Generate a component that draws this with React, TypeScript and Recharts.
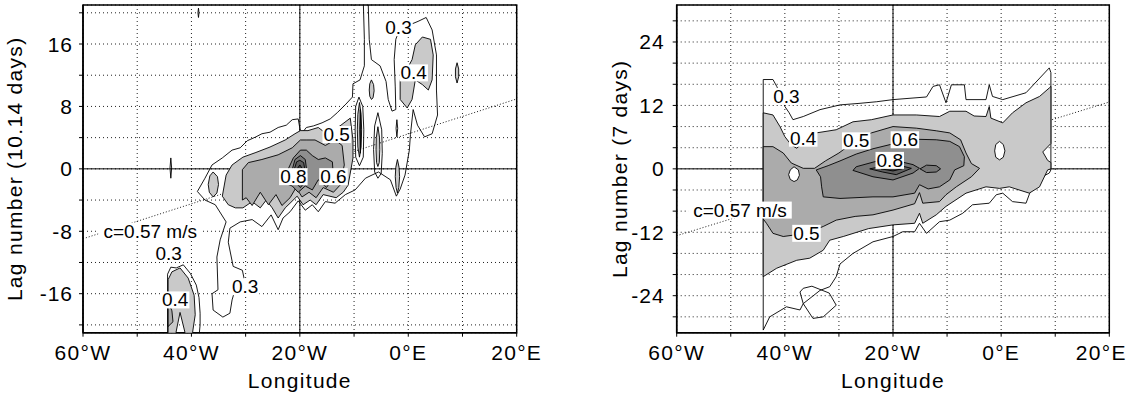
import React from 'react';
import {
  ComposedChart,
  XAxis,
  YAxis,
  CartesianGrid,
  Scatter,
  Line,
  ReferenceLine,
  ReferenceArea,
  Label,
} from 'recharts';

const FONT = '"Liberation Sans", Arial, Helvetica, sans-serif';

// ---------- axes ----------
const lonTicks = [-60, -50, -40, -30, -20, -10, 0, 10, 20];
const lonTickText = ['60°W', '', '40°W', '', '20°W', '', '0°E', '', '20°E'];
const leftLagTicks = [-20, -16, -12, -8, -4, 0, 4, 8, 12, 16, 20];
const leftLagText = ['', '-16', '', '-8', '', '0', '', '8', '', '16', ''];
const rightLagTicks = [-28, -24, -20, -16, -12, -8, -4, 0, 4, 8, 12, 16, 20, 24, 28];
const rightLagText = ['', '-24', '', '', '-12', '', '', '0', '', '', '12', '', '', '24', ''];

// phase-speed reference lines (c = 0.57 m/s)
const leftSpeedLine = [{ x: -60, y: -8.96 }, { x: 20, y: 8.96 }];
const rightSpeedLine = [{ x: -60, y: -12.65 }, { x: 20, y: 12.65 }];

// ---------- left panel contours (lon, lag) ----------
const L03main = [[-38.9,-2.9],[-37.5,-1.2],[-36.2,0.5],[-34.3,1.4],[-32.5,2.4],[-31.0,2.7],[-29.7,3.6],[-28.1,4.1],[-27.0,4.5],[-25.5,4.7],[-24.0,5.3],[-22.5,5.6],[-21.4,6.3],[-20.3,6.4],[-19.8,4.4],[-18.8,5.3],[-17.5,5.5],[-15.9,5.9],[-14.4,6.4],[-13.1,7.2],[-11.5,8.3],[-10.3,9.2],[-10.2,10.9],[-8.9,11.4],[-8.1,13.2],[-8.1,16.6],[-8.3,21.5],[-7.4,21.5],[-7.2,16.6],[-6.8,14.0],[-5.2,13.2],[-4.1,11.2],[-3.7,8.9],[-3.0,7.4],[-2.3,7.6],[-2.4,10.5],[-2.6,14.0],[-2.3,16.6],[-1.5,18.1],[0.4,18.5],[1.8,18.9],[3.3,19.4],[4.4,17.8],[5.2,14.6],[5.2,10.1],[5.4,6.9],[4.4,4.5],[3.0,4.1],[1.7,5.6],[0.9,7.6],[0.4,4.4],[0.2,2.4],[-0.6,-0.8],[-1.5,-2.6],[-2.2,-3.5],[-3.3,-1.4],[-5.5,-0.4],[-7.9,-1.2],[-9.8,-2.7],[-11.6,-3.3],[-13.5,-4.4],[-15.3,-4.2],[-16.6,-5.5],[-17.7,-4.6],[-19.0,-5.3],[-20.3,-4.1],[-21.8,-5.5],[-23.1,-6.3],[-24.0,-7.8],[-25.3,-5.9],[-27.0,-7.4],[-28.8,-6.5],[-31.0,-6.8],[-32.9,-7.6],[-33.2,-9.4],[-32.3,-12.5],[-30.6,-13.0],[-30.3,-14.0],[-31.8,-15.1],[-32.5,-16.8],[-32.9,-18.5],[-34.2,-19.0],[-36.0,-18.1],[-36.2,-16.0],[-35.1,-15.5],[-35.3,-11.3],[-34.7,-9.1],[-33.6,-6.8],[-35.6,-4.6],[-37.5,-4.0]];
const L03lowerLeft = [[-44.4,-21.5],[-44.4,-13.5],[-43.8,-12.6],[-42.8,-12.7],[-41.5,-12.3],[-40.2,-13.4],[-39.1,-14.9],[-38.6,-16.5],[-38.4,-18.5],[-38.4,-20.0],[-38.6,-21.5]];
const L04lowerLeft = [[-44.3,-21.5],[-44.3,-14.2],[-43.6,-13.2],[-42.1,-12.7],[-40.6,-14.0],[-39.5,-16.2],[-39.3,-18.7],[-39.9,-21.5],[-41.0,-21.5],[-42.1,-18.4],[-43.0,-21.5]];
const L05lowerLeft = [[-44.3,-17.0],[-43.6,-18.2],[-43.4,-19.6],[-44.3,-20.2]];
const L04topRight = [[-0.6,12.3],[0.7,14.0],[1.3,15.9],[2.6,16.9],[4.1,16.6],[4.6,14.6],[4.4,11.4],[3.7,10.1],[2.6,10.8],[1.3,11.4],[0.7,8.9],[-0.2,7.8],[-1.5,8.9],[-1.5,11.4]];
const L03stripA = [[-9.1,9.2],[-8.4,8.0],[-8.2,5.0],[-8.3,1.5],[-9.0,0.4],[-9.7,1.5],[-9.8,5.0],[-9.7,8.0]];
const L04stripA = [[-9.0,8.5],[-8.7,7.0],[-8.6,5.0],[-8.7,2.8],[-9.0,1.5],[-9.3,2.8],[-9.4,5.0],[-9.3,7.0]];
const L06stripA = [[-8.85,7.6],[-8.75,5.0],[-8.85,2.0],[-8.95,5.0]];
const L03stripB = [[-5.6,7.2],[-4.9,5.0],[-4.8,2.0],[-5.0,-0.6],[-5.6,-1.2],[-6.2,-0.4],[-6.4,2.5],[-6.2,5.5]];
const L04stripB = [[-5.6,5.4],[-5.3,4.0],[-5.25,2.5],[-5.35,0.8],[-5.6,0.3],[-5.85,0.8],[-5.95,2.5],[-5.9,4.0]];
const L04blobC = [[-6.8,11.4],[-6.4,10.8],[-6.3,10.0],[-6.5,9.1],[-6.8,8.9],[-7.1,9.3],[-7.2,10.1],[-7.1,10.9]];
const L04blobD = [[-2.0,1.2],[-1.7,0.2],[-1.6,-1.0],[-1.75,-2.4],[-2.0,-3.1],[-2.25,-2.4],[-2.4,-1.0],[-2.3,0.2]];
const L03tickE = [[-2.1,6.3],[-1.95,5.2],[-2.1,4.1],[-2.25,5.2]];
const L04eastF = [[9.0,13.6],[9.3,12.8],[9.3,11.8],[9.0,11.0],[8.7,11.8],[8.7,12.8]];
const L03markG = [[-43.8,1.4],[-43.65,0.1],[-43.8,-1.2],[-43.95,0.1]];
const L03markH = [[-38.7,20.6],[-38.6,20.0],[-38.7,19.4],[-38.8,20.0]];
const L04west = [[-36.0,-0.4],[-35.2,-1.0],[-35.0,-2.0],[-35.3,-3.1],[-36.0,-3.6],[-36.7,-3.0],[-36.9,-2.0],[-36.6,-0.9]];
const L04core = [[-34.3,-3.5],[-33.6,-0.8],[-32.5,0.5],[-30.5,1.5],[-28.1,2.1],[-25.5,2.8],[-22.7,3.7],[-20.9,4.5],[-19.9,4.9],[-18.5,4.9],[-16.6,5.3],[-15.1,4.5],[-12.6,5.5],[-10.7,6.5],[-10.2,3.7],[-10.2,1.4],[-11.1,-2.1],[-12.0,-3.0],[-13.3,-3.7],[-15.7,-3.3],[-17.0,-4.6],[-18.1,-4.0],[-19.4,-4.6],[-20.5,-3.5],[-21.8,-4.4],[-22.7,-5.0],[-24.0,-6.3],[-25.1,-5.0],[-26.2,-4.0],[-27.3,-5.0],[-28.8,-4.2],[-30.5,-5.0],[-31.9,-5.0],[-33.2,-4.6]];
const L05core = [[-30.6,-4.0],[-30.6,-0.1],[-29.5,0.8],[-27.0,1.2],[-24.0,1.8],[-21.4,2.7],[-19.9,3.7],[-18.7,3.7],[-17.2,3.7],[-15.3,3.0],[-13.5,3.7],[-12.2,3.0],[-11.8,0.5],[-12.6,-2.1],[-13.8,-3.0],[-15.7,-2.4],[-17.0,-3.7],[-18.3,-3.0],[-19.6,-3.6],[-20.7,-2.4],[-21.8,-3.7],[-23.3,-4.7],[-24.4,-3.3],[-25.8,-4.6],[-27.3,-3.0],[-28.8,-4.7],[-29.9,-3.7]];
const L06core = [[-23.3,-1.7],[-22.2,-0.1],[-21.2,1.4],[-19.9,2.4],[-18.8,2.4],[-17.7,1.7],[-16.6,1.2],[-15.3,1.4],[-14.0,0.9],[-13.8,-1.2],[-15.1,-2.4],[-16.6,-1.4],[-17.7,-2.7],[-19.0,-2.2],[-20.3,-3.0],[-21.4,-2.2]];
const L07core = [[-21.4,-0.1],[-20.9,1.2],[-19.9,1.7],[-19.0,1.2],[-18.7,-0.4],[-19.2,-1.8],[-19.9,-2.4],[-20.9,-1.7]];
const L08core = [[-21.0,0.0],[-20.6,0.9],[-20.0,1.1],[-19.3,0.8],[-19.1,0.0],[-19.4,-0.8],[-20.0,-1.1],[-20.7,-0.8]];
const L09core = [[-20.5,0.0],[-20.0,0.5],[-19.5,0.0],[-20.0,-0.5]];

// ---------- right panel contours (lon, lag) ----------
const R03main = [[-44.0,16.9],[-42.2,16.9],[-41.5,15.6],[-40.8,14.0],[-40.0,11.8],[-39.2,10.6],[-38.5,9.3],[-36.6,9.9],[-33.5,11.2],[-29.8,12.1],[-26.1,12.4],[-23.0,12.7],[-20.0,13.1],[-16.3,13.4],[-13.8,13.6],[-12.6,15.6],[-11.4,15.9],[-10.2,12.5],[-9.2,15.9],[-6.8,15.9],[-6.5,13.1],[-2.8,13.1],[-2.2,15.9],[-1.6,13.7],[0.3,13.1],[4.6,14.4],[8.9,19.1],[9.2,18.2],[9.2,-0.2],[8.9,-0.8],[7.0,-1.8],[5.5,-4.0],[4.6,-6.5],[2.1,-6.2],[0.3,-4.6],[-0.9,-4.9],[-2.2,-6.5],[-5.3,-6.8],[-7.1,-8.4],[-9.5,-9.7],[-11.4,-10.0],[-13.8,-12.2],[-15.1,-10.3],[-16.0,-11.9],[-18.2,-11.9],[-20.0,-12.8],[-23.7,-13.8],[-27.4,-16.0],[-29.8,-18.0],[-30.5,-20.4],[-31.7,-22.3],[-33.5,-23.0],[-36.6,-25.5],[-37.2,-26.7],[-39.7,-26.1],[-42.8,-28.0],[-44.0,-30.5]];
const R03loop = [[-36.6,-22.6],[-35.0,-22.2],[-31.8,-23.5],[-30.5,-25.8],[-32.9,-28.0],[-34.8,-28.3],[-36.6,-25.5],[-37.2,-23.3]];
const R04 = [[-44.0,10.6],[-42.2,10.2],[-40.9,8.0],[-40.0,6.1],[-38.8,4.5],[-37.8,3.9],[-36.0,5.5],[-34.2,6.8],[-30.5,7.4],[-27.4,8.9],[-24.0,9.3],[-20.0,10.2],[-15.7,10.2],[-11.4,9.9],[-9.5,10.9],[-6.5,10.9],[-5.0,10.0],[-2.8,9.9],[-2.2,11.8],[-1.9,9.6],[0.3,8.7],[2.1,10.6],[4.6,12.5],[7.1,13.7],[8.9,15.3],[9.2,15.6],[9.2,4.8],[7.7,3.2],[8.6,1.6],[9.2,1.2],[9.2,0.0],[8.6,-0.2],[7.1,-3.4],[5.2,-4.6],[1.5,-3.4],[-0.3,-3.7],[-2.8,-3.4],[-6.5,-4.6],[-10.2,-7.1],[-12.0,-8.7],[-14.5,-10.3],[-15.1,-8.4],[-16.0,-10.3],[-20.0,-10.6],[-24.5,-11.3],[-29.2,-12.8],[-31.7,-13.5],[-32.9,-15.4],[-35.4,-16.9],[-37.8,-17.3],[-41.5,-18.8],[-44.0,-20.4]];
const R05 = [[-44.0,4.2],[-42.2,4.2],[-40.3,3.0],[-38.8,1.1],[-36.6,0.1],[-34.5,0.1],[-32.5,1.5],[-30.0,3.0],[-28.0,4.5],[-26.8,5.4],[-24.0,6.8],[-20.0,8.0],[-15.7,7.7],[-12.0,7.2],[-9.5,6.8],[-7.5,5.5],[-6.5,3.0],[-5.5,1.0],[-4.0,0.1],[-5.5,-1.5],[-8.3,-3.4],[-10.2,-4.9],[-11.4,-6.2],[-14.5,-6.5],[-15.1,-4.5],[-16.0,-6.6],[-20.0,-7.8],[-23.7,-8.7],[-27.0,-9.0],[-30.5,-9.7],[-32.9,-10.9],[-36.0,-12.2],[-40.3,-12.8],[-42.2,-12.2],[-43.4,-10.3],[-44.0,-9.5]];
const R06 = [[-34.2,-0.2],[-32.0,0.6],[-29.8,1.5],[-26.8,2.8],[-23.7,3.8],[-20.5,4.6],[-18.0,5.3],[-15.7,5.6],[-12.0,5.5],[-9.5,5.2],[-7.7,4.2],[-6.8,2.3],[-6.9,0.6],[-8.6,-0.2],[-9.5,-2.1],[-11.4,-3.4],[-13.5,-3.8],[-15.1,-3.0],[-16.0,-4.6],[-20.0,-5.3],[-23.7,-5.3],[-29.8,-5.6],[-32.9,-5.3],[-33.2,-3.4],[-33.4,-1.5]];
const R07 = [[-27.4,-0.3],[-26.8,0.4],[-22.5,1.6],[-20.0,1.7],[-16.3,0.8],[-15.1,0.1],[-16.3,-0.8],[-20.0,-2.1],[-23.7,-1.5]];
const R07bubble = [[-15.0,0.0],[-13.8,0.7],[-12.0,0.6],[-11.2,0.0],[-12.0,-0.6],[-13.8,-0.7]];
const R08 = [[-24.3,0.0],[-21.9,0.5],[-19.4,0.8],[-16.6,0.1],[-19.4,-1.1],[-21.9,-0.6]];
const R09 = [[-22.2,0.0],[-20.0,0.3],[-18.4,0.0],[-20.0,-0.4]];
const RholeWest = [[-38.3,0.4],[-37.5,-0.2],[-37.3,-1.2],[-37.7,-2.1],[-38.3,-2.4],[-39.0,-2.0],[-39.3,-1.1],[-39.0,-0.2]];
const RholeEast = [[-0.3,5.2],[0.4,4.6],[0.7,3.4],[0.4,2.2],[-0.3,1.7],[-1.0,2.2],[-1.2,3.4],[-1.0,4.6]];

const levelFill: Record<string, string> = {
  '0.3': 'none',
  '0.4': '#c9c9c9',
  '0.5': '#ababab',
  '0.6': '#8f8f8f',
  '0.7': '#777777',
  '0.8': '#5e5e5e',
  '0.9': '#404040',
  hole: '#ffffff',
};

const leftContours = [
  { lv: '0.3', pts: L03main },
  { lv: '0.3', pts: L03lowerLeft },
  { lv: '0.3', pts: L03markG },
  { lv: '0.3', pts: L03markH },
  { lv: '0.3', pts: L03stripA },
  { lv: '0.3', pts: L03stripB },
  { lv: '0.3', pts: L03tickE },
  { lv: '0.4', pts: L04lowerLeft },
  { lv: '0.5', pts: L05lowerLeft },
  { lv: '0.4', pts: L04topRight },
  { lv: '0.4', pts: L04stripA },
  { lv: '0.9', pts: L06stripA },
  { lv: '0.4', pts: L04stripB },
  { lv: '0.4', pts: L04blobC },
  { lv: '0.4', pts: L04blobD },
  { lv: '0.4', pts: L04eastF },
  { lv: '0.4', pts: L04west },
  { lv: '0.4', pts: L04core },
  { lv: '0.5', pts: L05core },
  { lv: '0.6', pts: L06core },
  { lv: '0.7', pts: L07core },
  { lv: '0.8', pts: L08core },
  { lv: '0.9', pts: L09core },
];

const rightContours = [
  { lv: '0.3', pts: R03main },
  { lv: '0.3', pts: R03loop },
  { lv: '0.4', pts: R04 },
  { lv: '0.5', pts: R05 },
  { lv: 'hole', pts: RholeWest },
  { lv: 'hole', pts: RholeEast },
  { lv: '0.6', pts: R06 },
  { lv: '0.7', pts: R07 },
  { lv: '0.7', pts: R07bubble },
  { lv: '0.8', pts: R08 },
  { lv: '0.9', pts: R09 },
];

// ---------- labels ----------
const leftLabels = [
  { x: -1.8, y: 18.1, t: '0.3' },
  { x: 1.0, y: 12.3, t: '0.4' },
  { x: -13.2, y: 4.4, t: '0.5' },
  { x: -21.2, y: -1.0, t: '0.8' },
  { x: -13.8, y: -1.0, t: '0.6' },
  { x: -47.6, y: -8.0, t: 'c=0.57 m/s' },
  { x: -44.2, y: -10.8, t: '0.3' },
  { x: -43.0, y: -16.8, t: '0.4' },
  { x: -30.1, y: -15.1, t: '0.3' },
];
const rightLabels = [
  { x: -39.7, y: 13.7, t: '0.3' },
  { x: -36.6, y: 5.8, t: '0.4' },
  { x: -26.8, y: 5.3, t: '0.5' },
  { x: -17.8, y: 5.5, t: '0.6' },
  { x: -20.6, y: 1.6, t: '0.8' },
  { x: -36.0, y: -12.2, t: '0.5' },
  { x: -48.3, y: -7.8, t: 'c=0.57 m/s' },
];

const charW: Record<string, number> = { '.': 5.3, ' ': 5.3, '/': 5.3, c: 9.5, s: 9.5, m: 15.8, '=': 11.1 };
const textWidth = (t: string) => t.split('').reduce((s, ch) => s + (charW[ch] ?? 10.6), 0);

const close = (p: number[][]) => [...p, p[0]].map(([x, y]) => ({ x, y }));
const NoShape = () => <g />;

const LabelShape = (props: any) => {
  const { cx, cy, payload } = props;
  const t: string = payload.t;
  const w = textWidth(t) + (t.length > 4 ? 10 : 2);
  const h = 17;
  return (
    <g>
      <rect x={cx - w / 2} y={cy - h / 2} width={w} height={h} fill="#fff" />
      <text x={cx} y={cy} textAnchor="middle" dominantBaseline="central" fontSize={19} fontFamily={FONT} fill="#000">
        {t}
      </text>
    </g>
  );
};

type PanelProps = {
  width: number;
  right: number;
  yWidth: number;
  yDomain: [number, number];
  yTicks: number[];
  yTickText: string[];
  yTickMargin: number;
  yLabel: string;
  yLabelX: number;
  lastDx: number;
  speed: { x: number; y: number }[];
  contours: { lv: string; pts: number[][] }[];
  labels: { x: number; y: number; t: string }[];
};

function Panel(p: PanelProps) {
  const XTick = (tp: any) => {
    const v = tp.payload.value;
    const txt = lonTickText[lonTicks.indexOf(v)] ?? '';
    if (!txt) return <g />;
    return (
      <text x={tp.x + (v === 20 ? p.lastDx : 0)} y={tp.y} dy="0.71em" textAnchor="middle" fontSize={21} letterSpacing={1.3} fontFamily={FONT} fill="#000">
        {txt}
      </text>
    );
  };
  const YTick = (tp: any) => {
    const v = tp.payload.value;
    const txt = p.yTickText[p.yTicks.indexOf(v)] ?? '';
    if (!txt) return <g />;
    return (
      <text x={tp.x} y={tp.y} textAnchor="end" dominantBaseline="central" fontSize={21} letterSpacing={1} fontFamily={FONT} fill="#000">
        {txt}
      </text>
    );
  };
  return (
    <ComposedChart width={p.width} height={397} margin={{ top: 5, right: p.right, left: 0, bottom: 0 }}>
      <CartesianGrid stroke="#222" strokeDasharray="1 3" strokeWidth={1} />
      <XAxis
        dataKey="x"
        type="number"
        domain={[-60, 20]}
        ticks={lonTicks}
        interval={0}
        allowDataOverflow
        height={64.3}
        tickSize={4}
        tickMargin={8}
        tick={XTick}
        axisLine={{ stroke: '#000', strokeWidth: 1.5 }}
        tickLine={{ stroke: '#000' }}
      >
        <Label
          content={(lp: any) => {
            const vb = lp.viewBox;
            return (
              <text x={vb.x + vb.width / 2} y={vb.y + 55} textAnchor="middle" fontSize={21} letterSpacing={1.3} fontFamily={FONT} fill="#000">
                Longitude
              </text>
            );
          }}
        />
      </XAxis>
      <YAxis
        dataKey="y"
        type="number"
        domain={p.yDomain}
        ticks={p.yTicks}
        interval={0}
        allowDataOverflow
        width={p.yWidth}
        tickSize={4}
        tickMargin={p.yTickMargin}
        tick={YTick}
        axisLine={{ stroke: '#000', strokeWidth: 1.5 }}
        tickLine={{ stroke: '#000' }}
      >
        <Label
          content={(lp: any) => {
            const vb = lp.viewBox;
            const x = vb.x + p.yLabelX;
            const y = vb.y + vb.height / 2;
            return (
              <text x={x} y={y} transform={`rotate(-90, ${x}, ${y})`} textAnchor="middle" dominantBaseline="central" fontSize={21} letterSpacing={1.3} fontFamily={FONT} fill="#000">
                {p.yLabel}
              </text>
            );
          }}
        />
      </YAxis>
      {p.contours.map((c, i) => (
        <Scatter
          key={`c${i}`}
          data={close(c.pts)}
          dataKey="y"
          isAnimationActive={false}
          shape={NoShape}
          lineType="joint"
          line={{ stroke: '#000', strokeWidth: 0.9, fill: levelFill[c.lv] }}
        />
      ))}
      <ReferenceLine x={-20} stroke="#000" strokeWidth={1} />
      <ReferenceLine y={0} stroke="#000" strokeWidth={1} />
      <Line data={p.speed} dataKey="y" dot={false} stroke="#000" strokeWidth={0.9} strokeDasharray="1 2" isAnimationActive={false} />
      <ReferenceArea x1={-60} x2={20} y1={p.yDomain[0]} y2={p.yDomain[1]} fill="none" fillOpacity={0} stroke="#000" strokeWidth={1.5} />
      <Scatter data={p.labels} dataKey="y" isAnimationActive={false} shape={LabelShape} />
    </ComposedChart>
  );
}

export default function App() {
  return (
    <div style={{ position: 'absolute', left: 0, top: 0, width: 1131, height: 397, background: '#fff', fontFamily: FONT }}>
      <div style={{ position: 'absolute', left: 0, top: 0 }}>
        <Panel
          width={560}
          right={43.3}
          yWidth={83}
          yDomain={[-21, 21]}
          yTicks={leftLagTicks}
          yTickText={leftLagText}
          yTickMargin={6}
          yLabel="Lag number (10.14 days)"
          yLabelX={15}
          lastDx={0}
          speed={leftSpeedLine}
          contours={leftContours}
          labels={leftLabels}
        />
      </div>
      <div style={{ position: 'absolute', left: 560, top: 0 }}>
        <Panel
          width={571}
          right={21.7}
          yWidth={116.7}
          yDomain={[-31, 31]}
          yTicks={rightLagTicks}
          yTickText={rightLagText}
          yTickMargin={8}
          yLabel="Lag number (7 days)"
          yLabelX={60}
          lastDx={-8}
          speed={rightSpeedLine}
          contours={rightContours}
          labels={rightLabels}
        />
      </div>
    </div>
  );
}
